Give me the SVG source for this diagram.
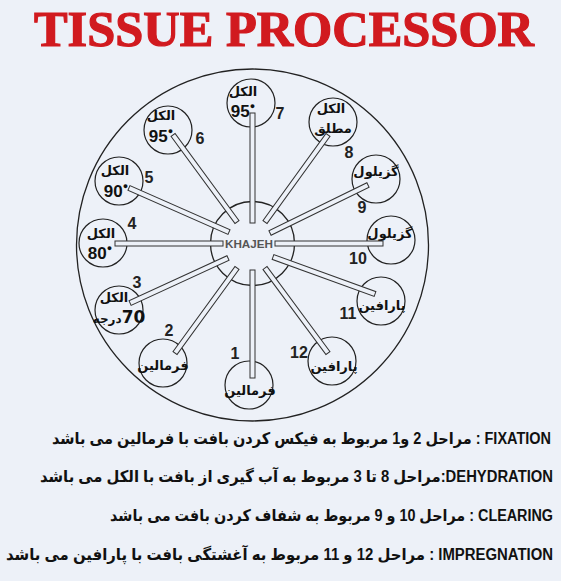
<svg xmlns="http://www.w3.org/2000/svg" width="561" height="581" viewBox="0 0 561 581">
<style>
.bg{fill:#edf1f8}
.ring{fill:none;stroke:#222;stroke-width:1.3}
.node{fill:#edf1f8;stroke:#222;stroke-width:1.2}
.bar{fill:#edf1f8;stroke:#333;stroke-width:1}
.fa{font-family:"DejaVu Sans",sans-serif;font-weight:bold;font-size:13px;fill:#111;text-anchor:middle}
.num{font-family:"Liberation Sans","DejaVu Sans",sans-serif;font-weight:bold;font-size:17px;fill:#111;text-anchor:middle}
.lbl{font-family:"Liberation Sans",sans-serif;font-weight:bold;font-size:16px;fill:#222;text-anchor:middle}
.dot{font-size:9px}
.line{font-family:"Liberation Sans","DejaVu Sans",sans-serif;font-weight:bold;font-size:16px;fill:#111}
</style>
<rect class="bg" x="0" y="0" width="561" height="581"/>
<text x="284" y="46" font-family="Liberation Serif,serif" font-weight="bold" font-size="50" fill="#d11a1f" stroke="#d11a1f" stroke-width="1.2" text-anchor="middle" textLength="500" lengthAdjust="spacingAndGlyphs">TISSUE PROCESSOR</text>
<circle class="ring" cx="252.5" cy="245" r="176"/>
<g id="hub">
<circle class="ring" cx="252.5" cy="243.5" r="42"/>
<text x="249" y="247.5" font-family="Liberation Sans,sans-serif" font-weight="bold" font-size="11" fill="#555" text-anchor="middle" textLength="48" lengthAdjust="spacingAndGlyphs">KHAJEH</text>
</g>
<g id="n1"><circle class="node" cx="249" cy="385" r="24"/><text class="fa" x="250" y="395">فرمالین</text><text class="lbl" x="235" y="359">1</text></g>
<g id="n2"><circle class="node" cx="163" cy="363" r="24"/><text class="fa" x="163" y="370">فرمالین</text><text class="lbl" x="169" y="336">2</text></g>
<g id="n3"><circle class="node" cx="119" cy="310" r="24"/><text class="fa" x="114" y="302">الکل</text><text class="fa" x="119" y="323" direction="rtl" style="font-size:12px"><tspan style="font-size:17px">70</tspan>درجه</text><text class="lbl" x="137" y="288">3</text></g>
<g id="n4"><circle class="node" cx="103" cy="243" r="24"/><text class="fa" x="101" y="238">الکل</text><text class="num" x="100" y="259">80<tspan class="dot" dy="-8">●</tspan></text><text class="lbl" x="132" y="229">4</text></g>
<g id="n5"><circle class="node" cx="119" cy="181" r="24"/><text class="fa" x="115" y="175">الکل</text><text class="num" x="116" y="197">90<tspan class="dot" dy="-8">●</tspan></text><text class="lbl" x="149" y="183">5</text></g>
<g id="n6"><circle class="node" cx="168" cy="130" r="24"/><text class="fa" x="161" y="120">الکل</text><text class="num" x="161" y="142">95<tspan class="dot" dy="-8">●</tspan></text><text class="lbl" x="200" y="144">6</text></g>
<g id="n7"><circle class="node" cx="251" cy="103" r="24"/><text class="fa" x="243" y="96">الکل</text><text class="num" x="243" y="117">95<tspan class="dot" dy="-8">●</tspan></text><text class="lbl" x="280" y="119">7</text></g>
<g id="n8"><circle class="node" cx="333" cy="122" r="24"/><text class="fa" x="331" y="113">الکل</text><text class="fa" x="333" y="133">مطلق</text><text class="lbl" x="349" y="158">8</text></g>
<g id="n9"><circle class="node" cx="376" cy="179" r="24"/><text class="fa" x="376" y="176">گزیلول</text><text class="lbl" x="362" y="213">9</text></g>
<g id="n10"><circle class="node" cx="391" cy="240" r="24"/><text class="fa" x="390" y="238">گزیلول</text><text class="lbl" x="358" y="264">10</text></g>
<g id="n11"><circle class="node" cx="381" cy="301" r="24"/><text class="fa" x="382" y="310">پارافین</text><text class="lbl" x="348" y="319">11</text></g>
<g id="n12"><circle class="node" cx="332" cy="361" r="24"/><text class="fa" x="334" y="371">پارافین</text><text class="lbl" x="299" y="358">12</text></g>
<g id="connectors">
<rect class="bar" x="0" y="-2.5" width="110" height="5" transform="translate(252.5 223) rotate(-90)"/>
<rect class="bar" x="0" y="-2.5" width="107.4" height="5" transform="translate(265 222) rotate(-54.1)"/>
<rect class="bar" x="0" y="-2.5" width="109.1" height="5" transform="translate(270 233) rotate(-26.1)"/>
<rect class="bar" x="0" y="-2.5" width="108" height="5" transform="translate(275 243.5)"/>
<rect class="bar" x="0" y="-2.5" width="108.5" height="5" transform="translate(273 257) rotate(19.9)"/>
<rect class="bar" x="0" y="-2.5" width="105.8" height="5" transform="translate(265 268) rotate(53.5)"/>
<rect class="bar" x="0" y="-2.5" width="108" height="5" transform="translate(252.5 270) rotate(90)"/>
<rect class="bar" x="0" y="-2.5" width="105.2" height="5" transform="translate(237 268) rotate(126.1)"/>
<rect class="bar" x="0" y="-2.5" width="107.8" height="5" transform="translate(228 258) rotate(155.3)"/>
<rect class="bar" x="0" y="-2.5" width="108" height="5" transform="translate(223 243.5) rotate(180)"/>
<rect class="bar" x="0" y="-2.5" width="109.3" height="5" transform="translate(229 232) rotate(-156.25)"/>
<rect class="bar" x="0" y="-2.5" width="108" height="5" transform="translate(237 222) rotate(-126.3)"/>
</g>
<g id="legend">
<text class="line" x="551" y="444" direction="rtl" text-anchor="start" textLength="499" lengthAdjust="spacingAndGlyphs">FIXATION : مراحل 2 و1 مربوط به فیکس کردن بافت با فرمالین می باشد</text>
<text class="line" x="553" y="482" direction="rtl" text-anchor="start" textLength="513" lengthAdjust="spacingAndGlyphs">DEHYDRATION:مراحل 8 تا 3 مربوط به آب گیری از بافت با الکل می باشد</text>
<text class="line" x="553" y="521" direction="rtl" text-anchor="start" textLength="443" lengthAdjust="spacingAndGlyphs">CLEARING : مراحل 10 و 9 مربوط به شفاف کردن بافت می باشد</text>
<text class="line" x="553" y="560" direction="rtl" text-anchor="start" textLength="547" lengthAdjust="spacingAndGlyphs">IMPREGNATION : مراحل 12 و 11 مربوط به آغشتگی بافت با پارافین می باشد</text>
</g>
</svg>
